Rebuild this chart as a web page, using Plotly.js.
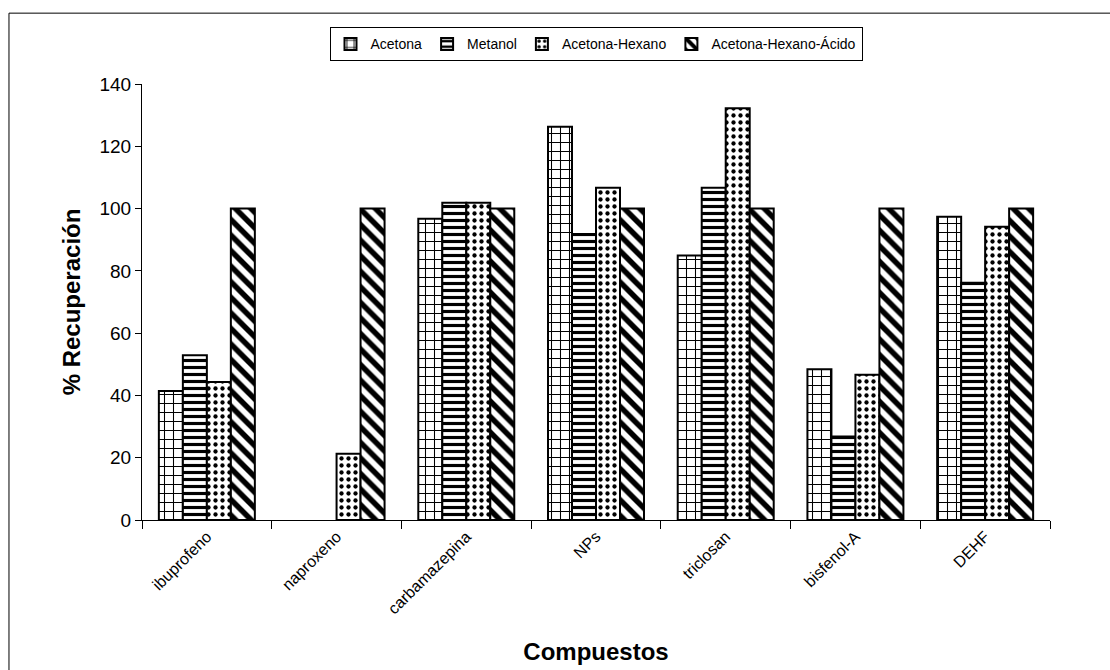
<!DOCTYPE html>
<html>
<head>
<meta charset="utf-8">
<script src="https://cdn.plot.ly/plotly-3.0.1.min.js"></script>
<style>html,body{margin:0;padding:0;background:#fff;}#chart{width:1110px;height:670px;}</style>
</head>
<body>
<div id="chart"></div>
<script>
const categories = ["ibuprofeno", "naproxeno", "carbamazepina", "NPs", "triclosan", "bisfenol-A", "DEHF"];
const acetona = [41.4, null, 96.7, 126.3, 84.9, 48.4, 97.4];
const metanol = [52.9, null, 101.9, 91.8, 106.7, 26.8, 76.2];
const acetonaHexano = [44.3, 21.3, 101.9, 106.7, 132.2, 46.6, 94.2];
const acetonaHexanoAcido = [100, 100, 100, 100, 100, 100, 100];
const seriesNames = ["Acetona", "Metanol", "Acetona-Hexano", "Acetona-Hexano-Ácido"];
const yTicks = [0, 20, 40, 60, 80, 100, 120, 140];

const patterns = [
  {shape: "+", size: 9, solidity: 0.22},
  {shape: "-", size: 7, solidity: 0.45},
  {shape: ".", size: 7, solidity: 0.3},
  {shape: "\\", size: 11, solidity: 0.5}
];
const allValues = [acetona, metanol, acetonaHexano, acetonaHexanoAcido];

const traces = allValues.map((vals, i) => ({
  type: "bar",
  name: seriesNames[i],
  x: categories,
  y: vals,
  marker: {
    color: "#ffffff",
    line: {color: "#000000", width: 2},
    pattern: Object.assign({fgcolor: "#000000", bgcolor: "#ffffff", fillmode: "replace"}, patterns[i])
  },
  hoverinfo: "x+y+name"
}));

const layout = {
  width: 1110, height: 670,
  paper_bgcolor: "#ffffff", plot_bgcolor: "#ffffff",
  margin: {l: 142, r: 60, t: 84, b: 150},
  barmode: "group", bargap: 0.26, bargroupgap: 0,
  font: {family: "Liberation Sans, Arial, sans-serif", color: "#000000"},
  xaxis: {
    type: "category",
    showline: true, linecolor: "#000000", linewidth: 1,
    ticks: "outside", ticklen: 8, tickcolor: "#000000", tickson: "boundaries",
    tickangle: -45,
    tickfont: {family: "Liberation Sans Narrow, Liberation Sans, sans-serif", size: 16, color: "#000000"},
    title: {text: "<b>Compuestos</b>", font: {size: 24, family: "Liberation Sans, Arial, sans-serif"}, standoff: 26},
    showgrid: false, zeroline: false
  },
  yaxis: {
    range: [0, 140], tickvals: yTicks,
    showline: true, linecolor: "#000000", linewidth: 1,
    ticks: "outside", ticklen: 6, tickcolor: "#000000",
    tickfont: {size: 19},
    title: {text: "<b>% Recuperación</b>", font: {size: 24}, standoff: 12},
    showgrid: false, zeroline: false
  },
  legend: {
    orientation: "h", x: 0.5, xanchor: "center", y: 1.13, yanchor: "top",
    bordercolor: "#000000", borderwidth: 1, bgcolor: "#ffffff",
    font: {size: 14}, itemwidth: 30, tracegroupgap: 0
  },
  shapes: [
    {type: "rect", xref: "paper", yref: "paper",
     x0: -0.1465, x1: 1.07, y0: -0.3465, y1: 1.1625,
     line: {color: "#000000", width: 1}, fillcolor: "rgba(0,0,0,0)", layer: "below"}
  ],
  showlegend: true
};

Plotly.newPlot("chart", traces, layout, {displayModeBar: false, staticPlot: true});
</script>
</body>
</html>
